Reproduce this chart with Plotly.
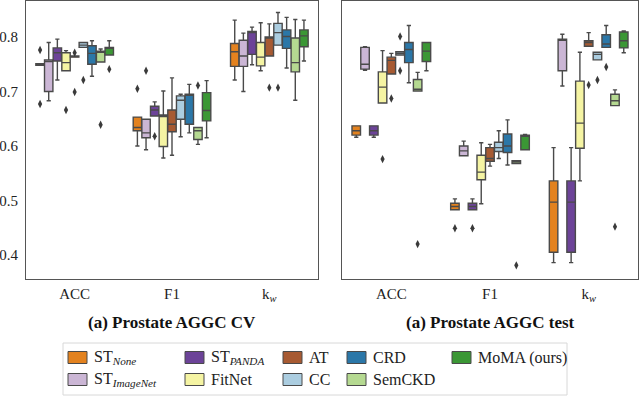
import plotly.graph_objects as go

# methods in plotting order (within each metric group)
methods = ["ST<sub><i>None</i></sub>", "ST<sub><i>ImageNet</i></sub>", "ST<sub><i>PANDA</i></sub>",
           "FitNet", "AT", "CC", "CRD", "SemCKD", "MoMA (ours)"]
colors = ["#e3821f", "#cbb6d5", "#6c4398", "#f5f4a3", "#a75a32",
          "#abcde0", "#2b77a8", "#b5d991", "#3b9735"]
metrics = ["ACC", "F1", "k<sub><i>w</i></sub>"]

# ---- Prostate AGGC CV : [metric][method] ----
cv_q1 = [[0.748, 0.700, 0.756, 0.738, 0.763, 0.781, 0.750, 0.754, 0.767],
         [0.628, 0.615, 0.655, 0.599, 0.626, 0.649, 0.640, 0.612, 0.646],
         [0.746, 0.746, 0.768, 0.747, 0.765, 0.785, 0.779, 0.736, 0.782]]
cv_med = [[0.750, 0.755, 0.771, 0.753, 0.764, 0.785, 0.770, 0.772, 0.779],
          [0.634, 0.624, 0.666, 0.654, 0.640, 0.684, 0.694, 0.628, 0.665],
          [0.773, 0.765, 0.808, 0.763, 0.799, 0.808, 0.801, 0.753, 0.802]]
cv_q3 = [[0.751, 0.758, 0.780, 0.771, 0.765, 0.790, 0.784, 0.774, 0.781],
         [0.653, 0.649, 0.673, 0.657, 0.666, 0.692, 0.695, 0.634, 0.698],
         [0.788, 0.794, 0.810, 0.790, 0.800, 0.825, 0.813, 0.798, 0.813]]
cv_lo = [[0.748, 0.683, 0.721, 0.738, 0.763, 0.781, 0.728, 0.754, 0.767],
         [0.600, 0.593, 0.655, 0.578, 0.583, 0.617, 0.624, 0.603, 0.615],
         [0.721, 0.700, 0.749, 0.738, 0.765, 0.785, 0.743, 0.684, 0.756]]
cv_hi = [[0.751, 0.790, 0.796, 0.775, 0.765, 0.790, 0.793, 0.778, 0.793],
         [0.653, 0.649, 0.681, 0.701, 0.725, 0.695, 0.713, 0.634, 0.720],
         [0.831, 0.807, 0.818, 0.826, 0.824, 0.845, 0.836, 0.832, 0.831]]
cv_out = [[[0.776, 0.677], [], [], [0.666], [0.771, 0.699], [0.721], [], [0.639], [0.741]],
          [[0.705], [0.738], [0.618], [], [], [], [], [0.711], []],
          [[], [], [], [], [0.707], [0.707], [], [], []]]

# ---- Prostate AGGC test ----
te_q1 = [[0.620, 0.741, 0.620, 0.679, 0.732, 0.767, 0.753, 0.701, 0.755],
         [0.483, 0.582, 0.483, 0.538, 0.572, 0.590, 0.588, 0.568, 0.593],
         [0.405, 0.738, 0.405, 0.596, 0.783, 0.758, 0.781, 0.674, 0.780]]
te_med = [[0.628, 0.750, 0.628, 0.708, 0.757, 0.770, 0.777, 0.704, 0.774],
          [0.489, 0.591, 0.489, 0.552, 0.577, 0.597, 0.600, 0.571, 0.618],
          [0.497, 0.794, 0.497, 0.642, 0.790, 0.768, 0.787, 0.683, 0.793]]
te_q3 = [[0.637, 0.781, 0.637, 0.736, 0.763, 0.773, 0.790, 0.722, 0.790],
         [0.495, 0.600, 0.495, 0.583, 0.597, 0.607, 0.622, 0.573, 0.620],
         [0.536, 0.796, 0.536, 0.719, 0.793, 0.772, 0.804, 0.695, 0.809]]
te_lo = [[0.616, 0.739, 0.616, 0.679, 0.732, 0.767, 0.716, 0.701, 0.738],
         [0.483, 0.582, 0.483, 0.494, 0.563, 0.577, 0.565, 0.568, 0.593],
         [0.386, 0.710, 0.386, 0.536, 0.783, 0.758, 0.781, 0.674, 0.771]]
te_hi = [[0.637, 0.782, 0.637, 0.775, 0.770, 0.773, 0.821, 0.735, 0.790],
         [0.503, 0.609, 0.503, 0.606, 0.603, 0.628, 0.648, 0.573, 0.621],
         [0.597, 0.805, 0.597, 0.772, 0.808, 0.772, 0.821, 0.703, 0.811]]
te_out = [[[], [], [], [0.576], [0.687], [0.801, 0.738], [], [0.420], []],
          [[0.449], [], [0.449], [], [], [], [], [0.381], []],
          [[], [], [], [], [0.712], [0.721], [0.745], [0.452], []]]

panels = [("x", "y", cv_q1, cv_med, cv_q3, cv_lo, cv_hi, cv_out),
          ("x2", "y2", te_q1, te_med, te_q3, te_lo, te_hi, te_out)]

W, H = 640, 396
SERIF = "Liberation Serif"
EDGE = "#4a4a4a"
n = len(methods)
slot = 0.8 / n

fig = go.Figure()
for xa, ya, q1, med, q3, lo, hi, out in panels:
    for k in range(n):
        pos = [m - 0.4 + (k + 0.5) * slot for m in range(len(metrics))]
        fig.add_trace(go.Box(
            x=pos, q1=[r[k] for r in q1], median=[r[k] for r in med],
            q3=[r[k] for r in q3], lowerfence=[r[k] for r in lo],
            upperfence=[r[k] for r in hi],
            width=slot * 0.97, whiskerwidth=0.5, fillcolor=colors[k],
            line=dict(color=EDGE, width=1.4), boxpoints=False,
            showlegend=False, xaxis=xa, yaxis=ya, hoverinfo="skip"))
        ox, oy = [], []
        for m in range(len(metrics)):
            for v in out[m][k]:
                ox.append(pos[m])
                oy.append(v)
        if ox:
            fig.add_trace(go.Scatter(
                x=ox, y=oy, mode="markers", xaxis=xa, yaxis=ya,
                marker=dict(symbol="diamond-tall", size=6, color="#3a3a3a"),
                showlegend=False, hoverinfo="skip"))

yrange = [0.356, 0.866]
ydom = [1 - 279 / H, 1 - 1 / H]
axis_common = dict(showline=True, mirror=True, linecolor="#555555", linewidth=1.2,
                   showgrid=False, zeroline=False, ticks="", automargin=False,
                   tickfont=dict(family=SERIF, size=15, color="#222"))
fig.update_layout(
    width=W, height=H, margin=dict(l=0, r=0, t=0, b=0, autoexpand=False),
    paper_bgcolor="white", plot_bgcolor="white", boxmode="overlay",
    xaxis=dict(domain=[26 / W, 318 / W], range=[-0.5, 2.5], tickvals=[0, 1, 2],
               ticktext=metrics, ticklabelstandoff=1, **axis_common),
    xaxis2=dict(domain=[342 / W, 638 / W], range=[-0.5, 2.5], tickvals=[0, 1, 2],
                ticktext=metrics, ticklabelstandoff=1, **axis_common),
    yaxis=dict(domain=ydom, range=yrange, tickvals=[0.4, 0.5, 0.6, 0.7, 0.8],
               ticktext=["0.4", "0.5", "0.6", "0.7", "0.8"], ticklabelstandoff=4,
               **axis_common),
    yaxis2=dict(domain=ydom, range=yrange, anchor="x2", matches="y",
                showticklabels=False, **axis_common),
)

# panel captions
for cx, txt in [(172, "(a) Prostate AGGC CV"), (490, "(a) Prostate AGGC test")]:
    fig.add_annotation(x=cx / W, y=1 - 322 / H, xref="paper", yref="paper",
                       xanchor="center", yanchor="middle",
                       text="<b>" + txt + "</b>", showarrow=False,
                       font=dict(family=SERIF, size=17, color="#111"))

# legend box drawn by hand (column-major, 5 columns x 2 rows)
fig.add_shape(type="rect", xref="paper", yref="paper",
              x0=63 / W, x1=567 / W, y0=1 - 395 / H, y1=1 - 343 / H,
              line=dict(color="#d8d8d8", width=1), fillcolor="white")
col_x = [68, 185, 283, 347, 452]
row_y = [357.5, 379.5]
for k in range(n):
    c, r = k // 2, k % 2
    x0 = col_x[c]
    yc = row_y[r]
    fig.add_shape(type="rect", xref="paper", yref="paper",
                  x0=x0 / W, x1=(x0 + 19) / W, y0=1 - (yc + 6) / H, y1=1 - (yc - 6) / H,
                  line=dict(color=EDGE, width=1), fillcolor=colors[k])
    fig.add_annotation(x=(x0 + 24) / W, y=1 - yc / H, xref="paper", yref="paper",
                       text=methods[k], showarrow=False, xanchor="left", yanchor="middle",
                       font=dict(family=SERIF, size=16, color="#222"))

fig.write_html("out.html", config={"displayModeBar": False},
               post_script="document.body.style.margin='0';")
